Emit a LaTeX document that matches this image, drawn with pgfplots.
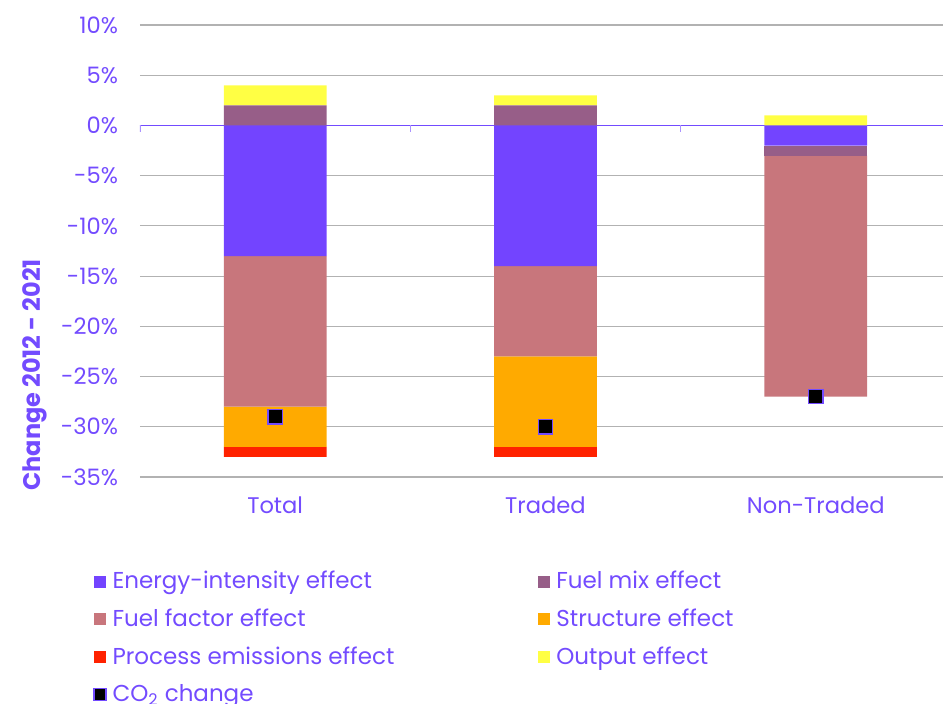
\documentclass[border=0pt]{standalone}
\usepackage{fontspec}
\setmainfont{Poppins}
\usepackage{pgfplots}
\pgfplotsset{compat=1.18}

\definecolor{txt}{RGB}{115,75,255}
\definecolor{eicol}{RGB}{115,68,255}
\definecolor{fmcol}{RGB}{151,94,136}
\definecolor{ffcol}{RGB}{200,118,124}
\definecolor{stcol}{RGB}{255,170,0}
\definecolor{pecol}{RGB}{255,34,0}
\definecolor{outcol}{RGB}{255,255,68}
\definecolor{gridcol}{RGB}{178,178,178}

\pgfplotsset{
  base/.style={
    scale only axis, width=405.5pt, height=226pt,
    at={(0,0)}, anchor=south west,
    xmin=-0.5, xmax=2.5, ymin=-35, ymax=10,
    enlargelimits=false, bar width=0.38,
  },
  hidden/.style={base, hide axis},
  seg/.style={fill=#1, draw=none},
}

\begin{document}
\begin{tikzpicture}
% frame, grid, labels and legend
\begin{axis}[base,
  axis line style={draw=none},
  major tick length=0pt,
  ymajorgrids, grid style={draw=gridcol, line width=0.6pt},
  ytick={-35,-30,...,10},
  yticklabel={\pgfmathprintnumber{\tick}\%},
  /pgf/number format/assume math mode=true,
  xtick={0,1,2}, xticklabels={Total,Traded,Non-Traded},
  tick label style={font=\fontsize{11.3}{13}\selectfont, text=txt},
  yticklabel style={xshift=-7.5pt},
  xticklabel style={yshift=-6.5pt},
  ylabel={Change 2012 - 2021},
  ylabel style={font=\fontsize{12}{14}\selectfont\bfseries, text=txt,
    at={(axis description cs:-0.13,0.226)}, anchor=center},
  legend columns=2,
  legend cell align=left,
  legend style={draw=none, fill=none, at={(axis description cs:-0.0654,-0.190)},
    anchor=north west, font=\fontsize{11.5}{14}\selectfont, text=txt,
    /tikz/every odd column/.append style={column sep=1pt},
    /tikz/every even column/.append style={column sep=70pt}, row sep=4.6pt},
  legend image code/.code={\path[#1] (0pt,-3pt) rectangle (6pt,3pt);},
]
\addlegendimage{fill=eicol, draw=none}
\addlegendentry{Energy-intensity effect}
\addlegendimage{fill=fmcol, draw=none}
\addlegendentry{Fuel mix effect}
\addlegendimage{fill=ffcol, draw=none}
\addlegendentry{Fuel factor effect}
\addlegendimage{fill=stcol, draw=none}
\addlegendentry{Structure effect}
\addlegendimage{fill=pecol, draw=none}
\addlegendentry{Process emissions effect}
\addlegendimage{fill=outcol, draw=none}
\addlegendentry{Output effect}
\addlegendimage{fill=black, draw=txt, line width=0.6pt}
\addlegendentry{CO\textsubscript{2} change}
\draw[txt, line width=0.7pt] (axis cs:-0.5,0) -- (axis cs:2.5,0);
\draw[txt!60, line width=0.6pt] (axis cs:-0.5,0) -- ([yshift=-3.5pt]axis cs:-0.5,0);
\draw[txt!60, line width=0.6pt] (axis cs:0.5,0) -- ([yshift=-3.5pt]axis cs:0.5,0);
\draw[txt!60, line width=0.6pt] (axis cs:1.5,0) -- ([yshift=-3.5pt]axis cs:1.5,0);
\end{axis}

% negative contributions
\begin{axis}[hidden, ybar stacked]
\addplot[seg=eicol] coordinates {(0,-13) (1,-14) (2,-2)};
\addplot[seg=fmcol] coordinates {(0,0) (1,0) (2,-1)};
\addplot[seg=ffcol] coordinates {(0,-15) (1,-9) (2,-24)};
\addplot[seg=stcol] coordinates {(0,-4) (1,-9) (2,0)};
\addplot[seg=pecol] coordinates {(0,-1) (1,-1) (2,0)};
\end{axis}

% positive contributions
\begin{axis}[hidden, ybar stacked]
\addplot[seg=eicol] coordinates {(0,0) (1,0) (2,0)};
\addplot[seg=fmcol] coordinates {(0,2) (1,2) (2,0)};
\addplot[seg=outcol] coordinates {(0,2) (1,1) (2,1)};
\end{axis}

% total change
\begin{axis}[hidden]
\addplot[only marks, mark=square*, mark size=3.6pt,
  mark options={fill=black, draw=txt, line width=0.6pt}]
  coordinates {(0,-29) (1,-30) (2,-27)};
\end{axis}

\pgfresetboundingbox
\path[use as bounding box] (-70pt,-113.5pt) rectangle (401.5pt,238.5pt);
\end{tikzpicture}
\end{document}
